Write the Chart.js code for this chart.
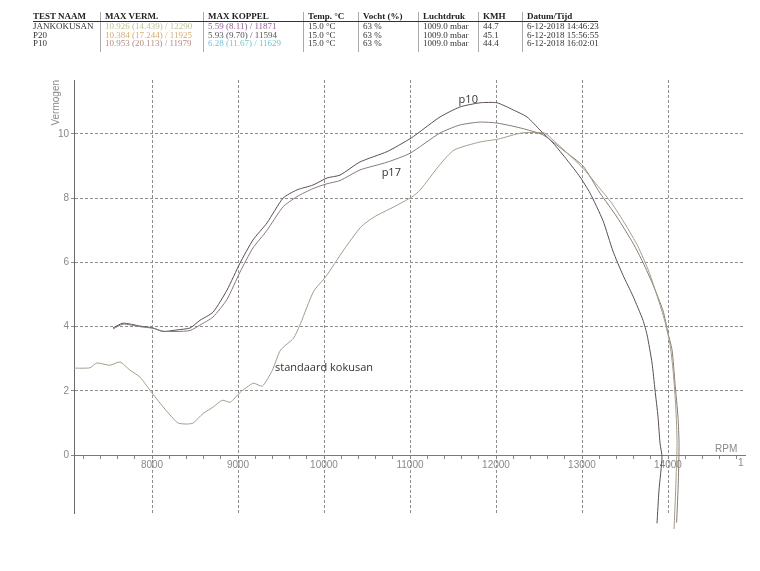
<!DOCTYPE html>
<html>
<head>
<meta charset="utf-8">
<script src="https://cdn.jsdelivr.net/npm/chart.js@4.4.1/dist/chart.umd.min.js"></script>
<style>
  html, body { margin: 0; padding: 0; background: #fff; }
  #wrap { position: relative; width: 760px; height: 571px; overflow: hidden; }
  #chart { position: absolute; left: 0; top: 0; }
  .kop { position: absolute; font-family: "Liberation Serif", "Times New Roman", serif; font-size: 9px; line-height: 10px; color: #333; white-space: nowrap; }
  .kop.h { font-weight: bold; color: #222; top: 11px; }
  .sep { position: absolute; width: 1px; background: #aaa; top: 12px; height: 40px; }
</style>
</head>
<body>
<div id="wrap">
  <canvas id="chart" width="760" height="571"></canvas>
  <div id="tabel"></div>
</div>
<script>
// kolommen van de testtabel
const kolomKoppen = ['TEST NAAM', 'MAX VERM.', 'MAX KOPPEL', 'Temp. °C', 'Vocht (%)', 'Luchtdruk', 'KMH', 'Datum/Tijd'];
const kolomX = [33, 105, 208, 308, 363, 423, 483, 527];
const testRijen = [
  ['JANKOKUSAN', '10.926 (14.439) / 12290', '5.59 (8.11) / 11871', '15.0 °C', '63 %', '1009.0 mbar', '44.7', '6-12-2018 14:46:23'],
  ['P20', '10.384 (17.244) / 11925', '5.93 (9.70) / 11594', '15.0 °C', '63 %', '1009.0 mbar', '45.1', '6-12-2018 15:56:55'],
  ['P10', '10.953 (20.113) / 11979', '6.28 (11.67) / 11629', '15.0 °C', '63 %', '1009.0 mbar', '44.4', '6-12-2018 16:02:01']
];
const vermKleur = ['#bfc596', '#d6ac74', '#b58a80'];
const koppelKleur = ['#8e5c92', '#555555', '#74c4d6'];

// curve p10
const p10Rpm = [7547, 7663, 7860, 8012, 8128, 8291, 8442, 8558, 8709, 8872, 9023, 9174, 9337, 9523, 9686, 9872, 10035, 10186, 10419, 10733, 11000, 11080, 11349, 11581, 11814, 12012, 12198, 12360, 12512, 12663, 12826, 12977, 13093, 13244, 13360, 13477, 13593, 13709, 13756, 13814, 13849, 13884, 13907, 13930, 13895, 13872];
const p10Verm = [3.96, 4.11, 4.02, 3.96, 3.85, 3.9, 3.96, 4.2, 4.45, 5.14, 5.98, 6.7, 7.23, 8.0, 8.26, 8.41, 8.63, 8.72, 9.13, 9.45, 9.85, 10.0, 10.53, 10.84, 10.97, 10.97, 10.75, 10.53, 10.12, 9.72, 9.19, 8.66, 8.16, 7.3, 6.35, 5.6, 4.95, 4.2, 3.75, 2.87, 2.02, 1.18, 0.37, -0.06, -1.09, -2.12];

// curve p17
const p17Rpm = [7547, 7663, 7860, 8012, 8128, 8291, 8442, 8558, 8709, 8872, 9023, 9174, 9337, 9523, 9686, 9872, 10035, 10186, 10419, 10733, 11000, 11349, 11581, 11814, 12012, 12279, 12547, 12779, 13012, 13209, 13407, 13593, 13709, 13826, 13942, 14000, 14047, 14081, 14116, 14128, 14120, 14100];
const p17Verm = [3.93, 4.08, 4.0, 3.95, 3.86, 3.85, 3.88, 4.05, 4.3, 4.85, 5.7, 6.45, 7.0, 7.73, 8.05, 8.3, 8.45, 8.55, 8.88, 9.12, 9.4, 10.03, 10.28, 10.37, 10.34, 10.19, 9.97, 9.5, 9.0, 8.16, 7.41, 6.6, 6.0, 5.3, 4.5, 3.8, 3.27, 2.24, 1.18, 0.37, -0.8, -2.1];

// curve standaard kokusan
const stdRpm = [7093, 7277, 7358, 7510, 7627, 7743, 7860, 7977, 8093, 8210, 8303, 8408, 8478, 8595, 8712, 8817, 8910, 9027, 9178, 9283, 9400, 9494, 9645, 9727, 9879, 10019, 10229, 10427, 10579, 10812, 11022, 11116, 11349, 11512, 11814, 12026, 12294, 12562, 12663, 12878, 13029, 13193, 13344, 13500, 13650, 13780, 13880, 13960, 14020, 14060, 14090, 14105, 14090, 14070];
const stdVerm = [2.71, 2.72, 2.87, 2.8, 2.9, 2.65, 2.43, 2.02, 1.62, 1.25, 1.0, 0.97, 1.0, 1.3, 1.5, 1.71, 1.65, 1.96, 2.24, 2.15, 2.65, 3.27, 3.64, 4.1, 5.1, 5.55, 6.39, 7.1, 7.41, 7.73, 8.04, 8.25, 9.05, 9.5, 9.75, 9.84, 10.03, 10.03, 9.81, 9.28, 8.88, 8.35, 7.85, 7.2, 6.5, 5.7, 4.9, 4.2, 3.5, 2.6, 1.5, 0.4, -1.0, -2.3];

// as-indeling
const rpmMin = 7093;
const rpmMax = 14895;
const vermMin = -1.8;
const vermMax = 11.68;
const yTicks = [0, 2, 4, 6, 8, 10];
const xTicks = [];
for (let r = 7200; r <= 14800; r += 200) xTicks.push(r);

// tabel bovenaan opbouwen
const tabel = document.getElementById('tabel');
kolomKoppen.forEach(function(k, i) {
  const d = document.createElement('div');
  d.className = 'kop h';
  d.style.left = kolomX[i] + 'px';
  d.textContent = k;
  tabel.appendChild(d);
  if (i > 0) {
    const s = document.createElement('div');
    s.className = 'sep';
    s.style.left = (kolomX[i] - 5) + 'px';
    tabel.appendChild(s);
  }
});
const lijn = document.createElement('div');
lijn.style.cssText = 'position:absolute;left:33px;top:21px;width:565px;height:1px;background:#333;';
tabel.appendChild(lijn);
testRijen.forEach(function(rij, r) {
  rij.forEach(function(t, i) {
    const d = document.createElement('div');
    d.className = 'kop';
    d.style.left = kolomX[i] + 'px';
    d.style.top = (21 + r * 8.7) + 'px';
    if (i === 1) d.style.color = vermKleur[r];
    if (i === 2) d.style.color = koppelKleur[r];
    d.textContent = t;
    tabel.appendChild(d);
  });
});

function punten(xs, ys) {
  return xs.map(function(x, i) { return { x: x, y: ys[i] }; });
}

// teksten in de grafiek
const labelsPlugin = {
  id: 'labels',
  afterDraw(chart) {
    const ctx = chart.ctx;
    const xs = chart.scales.x, ys = chart.scales.y;
    ctx.save();
    ctx.fillStyle = '#333';
    ctx.font = '11px "Open Sans", "Liberation Sans", sans-serif';
    ctx.textBaseline = 'middle';
    ctx.fillText('p10', xs.getPixelForValue(11565), ys.getPixelForValue(11.05));
    ctx.fillText('p17', xs.getPixelForValue(10670), ys.getPixelForValue(8.8));
    ctx.fillText('standaard kokusan', xs.getPixelForValue(9430), ys.getPixelForValue(2.72));

    ctx.fillStyle = '#8a8a8a';
    ctx.font = '10px "Liberation Sans", Arial, sans-serif';
    ctx.textBaseline = 'bottom';
    ctx.fillText('RPM', 715, ys.getPixelForValue(0) - 1);
    // afgesneden label 15000 aan de rechterrand
    ctx.textBaseline = 'top';
    ctx.fillText('1', 738, ys.getPixelForValue(0) + 3);

    ctx.translate(61, 80);
    ctx.rotate(-Math.PI / 2);
    ctx.textAlign = 'right';
    ctx.textBaseline = 'bottom';
    ctx.fillText('Vermogen', 0, 0);
    ctx.restore();
  }
};

const ctx = document.getElementById('chart').getContext('2d');
const chart = new Chart(ctx, {
  type: 'line',
  data: {
    datasets: [
      { label: 'standaard kokusan', data: punten(stdRpm, stdVerm), borderColor: '#a29d8a', borderWidth: 1, pointRadius: 0, tension: 0.2, clip: false },
      { label: 'p17', data: punten(p17Rpm, p17Verm), borderColor: '#877b78', borderWidth: 1, pointRadius: 0, tension: 0.2, clip: false },
      { label: 'p10', data: punten(p10Rpm, p10Verm), borderColor: '#5a4c58', borderWidth: 1, pointRadius: 0, tension: 0.2, clip: false }
    ]
  },
  options: {
    responsive: false,
    animation: false,
    layout: { padding: { left: 0, top: 80, right: 15, bottom: 58 } },
    plugins: { legend: { display: false }, tooltip: { enabled: false } },
    scales: {
      x: {
        type: 'linear',
        position: { y: 0 },
        min: rpmMin,
        max: rpmMax,
        afterBuildTicks: function(scale) { scale.ticks = xTicks.map(function(v) { return { value: v }; }); },
        grid: {
          color: function(c) { return c.tick && c.tick.value % 1000 === 0 ? '#8e8e8e' : 'rgba(0,0,0,0)'; },
          tickColor: '#888',
          tickLength: 3
        },
        border: { color: '#7a7a7a', width: 1, dash: [3, 2] },
        ticks: {
          autoSkip: false,
          maxRotation: 0,
          padding: 1,
          color: '#8a8a8a',
          font: { family: '"Liberation Sans Narrow", "Liberation Sans", Arial', size: 10 },
          callback: function(v) { return v % 1000 === 0 ? String(v) : ''; }
        }
      },
      y: {
        position: 'left',
        min: vermMin,
        max: vermMax,
        afterFit: function(scale) { scale.width = 74; },
        afterBuildTicks: function(scale) { scale.ticks = yTicks.map(function(v) { return { value: v }; }); },
        grid: {
          color: function(c) { return c.tick && c.tick.value !== 0 ? '#8e8e8e' : 'rgba(0,0,0,0)'; },
          tickColor: '#888',
          tickLength: 3
        },
        border: { color: '#6a6a6a', width: 1, dash: [3, 2] },
        ticks: {
          padding: 2,
          color: '#8a8a8a',
          font: { family: '"Liberation Sans", Arial', size: 10 }
        }
      }
    }
  },
  plugins: [labelsPlugin]
});
</script>
</body>
</html>
